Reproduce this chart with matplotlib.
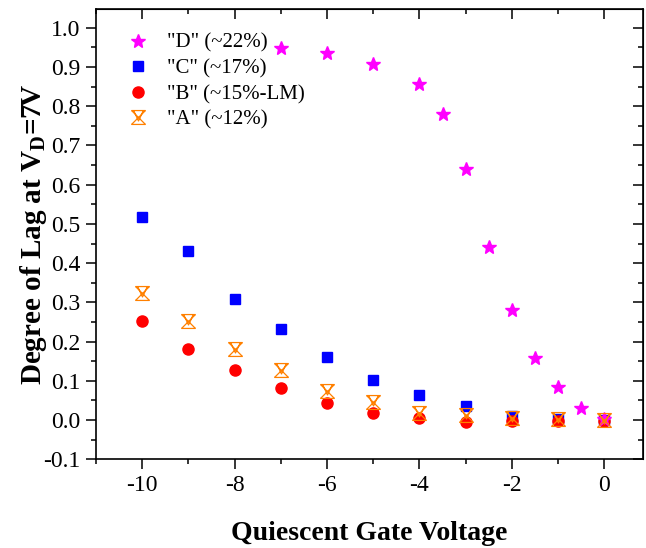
import matplotlib
matplotlib.use("Agg")
import matplotlib.pyplot as plt
from matplotlib.path import Path
from matplotlib.ticker import MultipleLocator

# quiescent gate voltage
x_abc = [-10, -9, -8, -7, -6, -5, -4, -3, -2, -1, 0]
x_d = [-7, -6, -5, -4, -3.5, -3, -2.5, -2, -1.5, -1, -0.5, 0]

# degree of lag at VD=7V
lag_d = [0.948, 0.937, 0.907, 0.857, 0.781, 0.640, 0.442, 0.281, 0.157, 0.083, 0.031, 0.002]
lag_c = [0.517, 0.432, 0.309, 0.233, 0.160, 0.102, 0.064, 0.035, 0.010, 0.002, 0.000]
lag_b = [0.253, 0.182, 0.127, 0.082, 0.043, 0.019, 0.004, -0.006, -0.003, -0.002, -0.002]
lag_a = [0.323, 0.253, 0.182, 0.127, 0.074, 0.047, 0.017, 0.012, 0.005, 0.002, 0.000]

labels = ['"D" (~22%)', '"C" (~17%)', '"B" (~15%-LM)', '"A" (~12%)']

plt.rcParams['font.family'] = ['Liberation Serif', 'DejaVu Serif']
plt.rcParams['mathtext.fontset'] = 'custom'
plt.rcParams['mathtext.rm'] = 'Liberation Serif'
plt.rcParams['mathtext.bf'] = 'Liberation Serif:bold'
plt.rcParams['axes.unicode_minus'] = False

# hourglass-with-cross marker like the Origin one
M, L = Path.MOVETO, Path.LINETO
hourglass = Path(
    [(-1, 1), (1, -1), (1, 1), (-1, -1), (-1, 1), (1, 1), (-1, -1), (1, -1),
     (-0.7, 1), (0, -0.5), (0.7, 1)],
    [M, L, M, L, M, L, M, L, M, L, L])

fig = plt.figure(figsize=(6.46, 5.48), dpi=100)
ax = fig.add_axes([0.1486, 0.1619, 0.8468, 0.8217])

hc, = ax.plot(x_abc, lag_c, ls='none', marker='s', ms=7.2, color='#0000FF', mec='#0000FF')
hb, = ax.plot(x_abc, lag_b, ls='none', marker='o', ms=8, color='#FF0000', mec='#FF0000')
hd, = ax.plot(x_d, lag_d, ls='none', marker='*', ms=10.5, color='#FF00FF', mec='#FF00FF')
ha, = ax.plot(x_abc, lag_a, ls='none', marker=hourglass, ms=10, mfc='none',
              mec='#FF8000', mew=0.9)

ax.legend([hd, hc, hb, ha], labels, loc='upper left', bbox_to_anchor=(0.054, 0.946),
          frameon=False, fontsize=15, handlelength=1.2, handletextpad=0.8,
          labelspacing=0.29, borderaxespad=0, borderpad=0)

ax.set_xlim(-11, 0.84)
ax.set_ylim(-0.1, 1.048)
ax.xaxis.set_major_locator(MultipleLocator(2))
ax.xaxis.set_minor_locator(MultipleLocator(1))
ax.yaxis.set_minor_locator(MultipleLocator(0.05))
ax.set_yticks([i / 10 for i in range(-1, 11)])
ax.set_yticklabels([f"{i / 10:.1f}" for i in range(-1, 11)])

ax.tick_params(which='major', direction='out', length=7, width=1.1, labelsize=17, pad=4)
ax.tick_params(which='minor', direction='out', length=3.5, width=1.1)
for s in ax.spines.values():
    s.set_linewidth(1.2)

top = ax.secondary_xaxis('top')
top.xaxis.set_major_locator(MultipleLocator(2))
top.xaxis.set_minor_locator(MultipleLocator(1))
top.tick_params(which='major', direction='in', length=7, width=1.1, labeltop=False)
top.tick_params(which='minor', direction='in', length=3.5, width=1.1)
right = ax.secondary_yaxis('right')
right.yaxis.set_major_locator(MultipleLocator(0.1))
right.yaxis.set_minor_locator(MultipleLocator(0.05))
right.tick_params(which='major', direction='in', length=7, width=1.1, labelright=False)
right.tick_params(which='minor', direction='in', length=3.5, width=1.1)

ax.set_xlabel('Quiescent Gate Voltage', fontsize=20, fontweight='bold', labelpad=18)
ax.set_ylabel(r'Degree of Lag at V$_{\mathbf{D}}$=7V', fontsize=21, fontweight='bold', labelpad=-4)

fig.savefig('out.png', dpi=100)
